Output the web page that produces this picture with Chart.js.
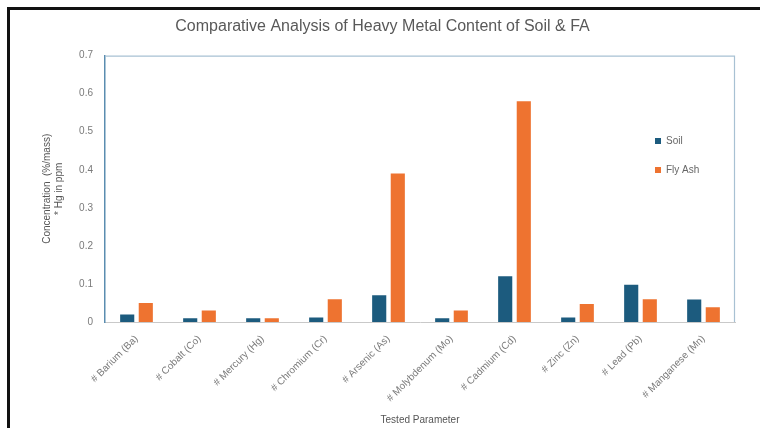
<!DOCTYPE html>
<html>
<head>
<meta charset="utf-8">
<script src="https://cdn.jsdelivr.net/npm/chart.js@4.4.1/dist/chart.umd.min.js"></script>
<style>
  html, body { margin: 0; padding: 0; background: #fff; }
  #wrap { position: relative; width: 760px; height: 428px; overflow: hidden; }
  #frame {
    position: absolute; left: 7px; top: 7px; right: -5px; bottom: -5px;
    border-left: 3px solid #111; border-top: 3px solid #111;
    pointer-events: none;
  }
  canvas { position: absolute; left: 0; top: 0; }
</style>
</head>
<body>
<div id="wrap">
  <canvas id="metalChart" width="760" height="428"></canvas>
  <div id="frame"></div>
</div>
<script>
// Heavy metal content, soil vs fly ash (% by mass, Hg in ppm)
const parameters = [
  '# Barium (Ba)', '# Cobalt (Co)', '# Mercury (Hg)', '# Chromium (Cr)', '# Arsenic (As)',
  '# Molybdenum (Mo)', '# Cadmium (Cd)', '# Zinc (Zn)', '# Lead (Pb)', '# Manganese (Mn)'
];
const soilValues = [0.02, 0.01, 0.01, 0.012, 0.07, 0.01, 0.12, 0.012, 0.098, 0.059];
const flyAshValues = [0.05, 0.03, 0.01, 0.06, 0.39, 0.03, 0.58, 0.047, 0.06, 0.039];
const yTicks = [0, 0.1, 0.2, 0.3, 0.4, 0.5, 0.6, 0.7];

const SOIL_COLOR = '#1c5b7e';
const ASH_COLOR = '#ee7330';
const FONT = "'Liberation Sans', Arial, sans-serif";

// outline of the plot box plus the small legend inside it
const plotBox = {
  id: 'plotBox',
  beforeDatasetsDraw(chart) {
    const { ctx, chartArea: a } = chart;
    ctx.save();
    ctx.strokeStyle = '#a8c1d3';
    ctx.lineWidth = 1.2;
    ctx.beginPath();
    ctx.moveTo(a.left, a.top + 0.5);
    ctx.lineTo(a.right - 0.5, a.top + 0.5);
    ctx.lineTo(a.right - 0.5, a.bottom);
    ctx.stroke();
    ctx.restore();
  },
  afterDraw(chart) {
    const { ctx } = chart;
    const items = chart.data.datasets.map(ds => ({ label: ds.label, color: ds.backgroundColor }));
    ctx.save();
    ctx.font = '10px ' + FONT;
    ctx.textBaseline = 'middle';
    items.forEach((it, i) => {
      const y = 141 + i * 29;
      ctx.fillStyle = it.color;
      ctx.fillRect(655, y - 3, 6, 6);
      ctx.fillStyle = '#666';
      ctx.fillText(it.label, 666, y);
    });
    ctx.restore();
  }
};

new Chart(document.getElementById('metalChart'), {
  type: 'bar',
  data: {
    labels: parameters,
    datasets: [
      { label: 'Soil', data: soilValues, backgroundColor: SOIL_COLOR,
        barPercentage: 0.76, categoryPercentage: 0.59 },
      { label: 'Fly Ash', data: flyAshValues, backgroundColor: ASH_COLOR,
        barPercentage: 0.76, categoryPercentage: 0.59 }
    ]
  },
  options: {
    responsive: false,
    animation: false,
    layout: { padding: { left: 30, right: 25, top: 0, bottom: 1 } },
    plugins: {
      legend: { display: false },
      tooltip: { enabled: false },
      title: {
        display: true,
        text: 'Comparative Analysis of Heavy Metal Content of Soil & FA',
        color: '#595959',
        font: { family: FONT, size: 16, weight: 'normal', lineHeight: 1.1 },
        padding: { top: 18, bottom: 20 }
      }
    },
    scales: {
      x: {
        grid: { display: false },
        border: { color: '#c9c9c9', width: 1 },
        ticks: {
          color: '#7a7a7a', font: { family: FONT, size: 10 },
          minRotation: 45, maxRotation: 45, autoSkip: false, padding: 3
        },
        title: {
          display: true, text: 'Tested Parameter', color: '#555',
          font: { family: FONT, size: 10 }, padding: { top: 0, bottom: 1 }
        },
        afterFit(axis) { axis.height = 105; }
      },
      y: {
        min: 0, max: 0.7,
        grid: { display: false, drawTicks: false },
        border: { color: '#5a8db0', width: 1.5 },
        afterBuildTicks(axis) { axis.ticks = yTicks.map(v => ({ value: v })); },
        ticks: {
          color: '#7a7a7a', font: { family: FONT, size: 10 }, padding: 12,
          callback: v => String(v)
        },
        title: {
          display: true,
          text: ['Concentration  (%/mass)', '* Hg in ppm'],
          color: '#555',
          font: { family: FONT, size: 10, lineHeight: 1.2 },
          padding: { top: 11, bottom: 0 }
        },
        afterFit(axis) { axis.width = 75; }
      }
    }
  },
  plugins: [plotBox]
});
</script>
</body>
</html>
